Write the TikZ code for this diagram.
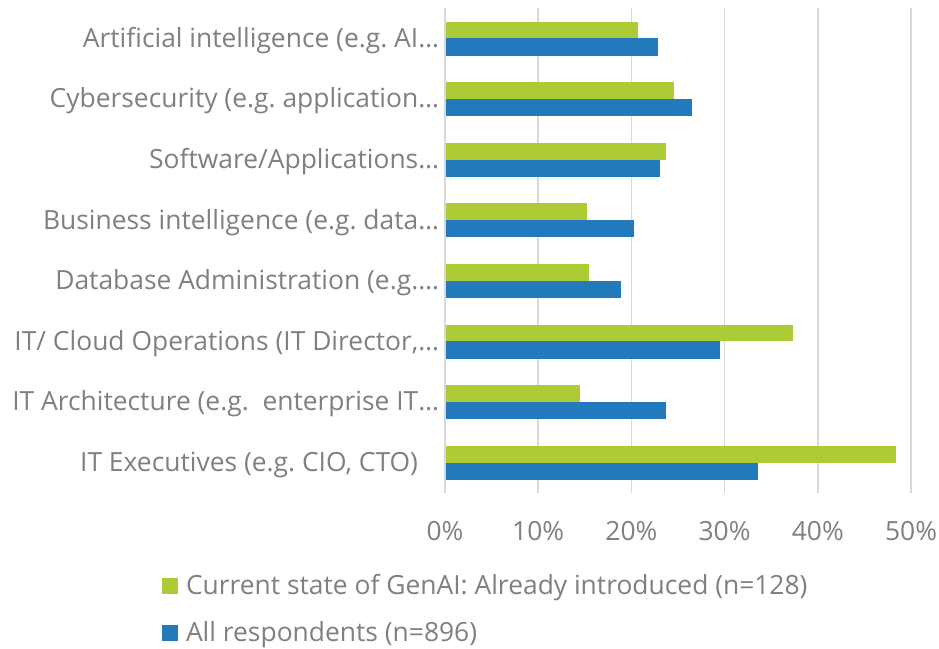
\documentclass[tikz,border=0pt]{standalone}
\usepackage{fontspec}
\setmainfont{Open Sans}
\frenchspacing
\definecolor{barGreen}{RGB}{173,203,52}
\definecolor{barBlue}{RGB}{34,122,189}
\definecolor{txtGray}{RGB}{128,128,128}
\definecolor{gridGray}{RGB}{217,217,217}
\begin{document}
\begin{tikzpicture}[x=1pt,y=-1pt,
  lbl/.style={inner sep=0pt,outer sep=0pt,text=txtGray,font=\fontsize{26.4}{30}\selectfont},
  gridline/.style={draw=gridGray,line width=1.6pt},
  gbar/.style={fill=barGreen},
  bbar/.style={fill=barBlue}]
\useasboundingbox (0,0) rectangle (939,648);
\fill[white] (0,0) rectangle (939,648);
% gridlines
\foreach \v in {0,10,20,30,40,50}{
  \draw[gridline] ({445+9.32*\v},8) -- ({445+9.32*\v},493);
  \node[lbl,anchor=base] (tick\v) at ({445+9.32*\v},540) {\v\%};
}
% bars
\foreach \i/\g/\b in {0/20.7/22.8,1/24.6/26.5,2/23.75/23.1,3/15.2/20.3,4/15.5/18.85,5/37.3/29.5,6/14.5/23.7,7/48.4/33.6}{
  \pgfmathsetmacro\yy{38.3+60.6*\i}
  \fill[gbar] (445.8,\yy-16.8) rectangle ({445+9.32*\g},\yy);
  \fill[bbar] (445.8,\yy) rectangle ({445+9.32*\b},\yy+17.2);
}
% category labels
\node[lbl,anchor=base east] (c0) at (439,{38.3+8.9}) {Artificial intelligence (e.g. AI…};
\node[lbl,anchor=base east] (c1) at (439,{38.3+60.6+8.9}) {Cybersecurity (e.g. application…};
\node[lbl,anchor=base east] (c2) at (439,{38.3+2*60.6+8.9}) {Software/Applications…};
\node[lbl,anchor=base east] (c3) at (439,{38.3+3*60.6+8.9}) {Business intelligence (e.g. data…};
\node[lbl,anchor=base east] (c4) at (439,{38.3+4*60.6+8.9}) {Database Administration (e.g.…};
\node[lbl,anchor=base east] (c5) at (439,{38.3+5*60.6+8.9}) {IT/ Cloud Operations (IT Director,…};
\node[lbl,anchor=base east] (c6) at (439,{38.3+6*60.6+8.9}) {IT Architecture (e.g.\ \ enterprise IT…};
\node[lbl,anchor=base east] (c7) at (418,{38.3+7*60.6+8.9}) {IT Executives (e.g. CIO, CTO)};
% legend
\fill[barGreen] (162,578) rectangle (178,594);
\node[lbl,anchor=base west] (leg1) at (186,594) {Current state of GenAI: Already introduced (n=128)};
\fill[barBlue] (162,625) rectangle (178,641);
\node[lbl,anchor=base west] (leg2) at (186,641) {All respondents (n=896)};
\end{tikzpicture}
\end{document}
